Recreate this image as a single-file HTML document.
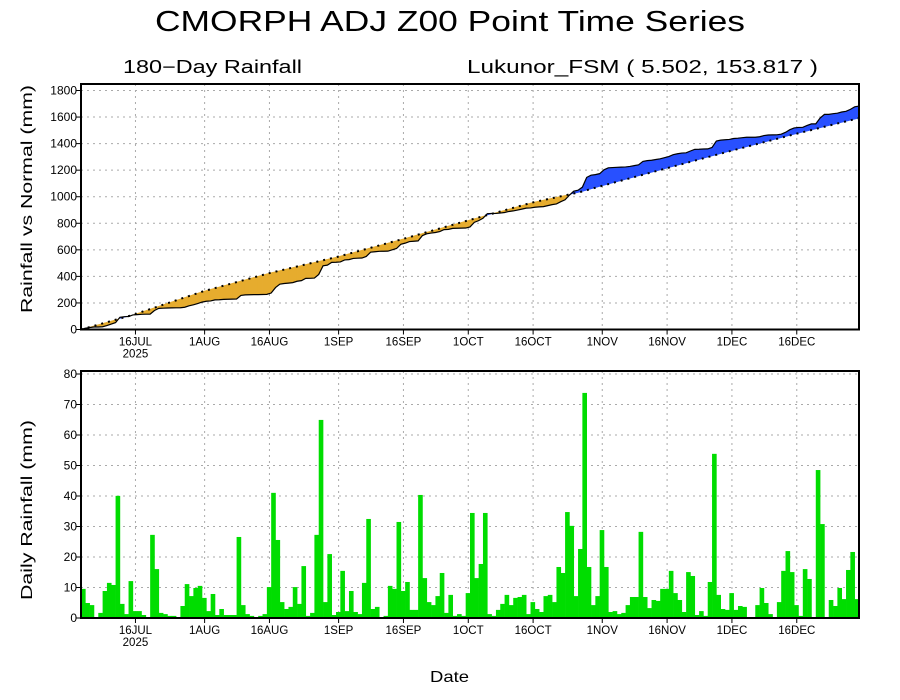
<!DOCTYPE html>
<html><head><meta charset="utf-8"><style>
html,body{margin:0;padding:0;background:#fff;}
svg{display:block;font-family:"Liberation Sans",sans-serif;}
</style></head><body>
<svg id="s" width="900" height="700" xmlns="http://www.w3.org/2000/svg">
<rect width="900" height="700" fill="#fff"/>
<text x="155" y="31" font-size="29" textLength="590" lengthAdjust="spacingAndGlyphs">CMORPH ADJ Z00 Point Time Series</text>
<text x="123" y="73" font-size="18" textLength="179" lengthAdjust="spacingAndGlyphs">180−Day Rainfall</text>
<text x="467" y="73" font-size="18" textLength="351" lengthAdjust="spacingAndGlyphs">Lukunor_FSM ( 5.502, 153.817 )</text>
<text transform="translate(32,199) rotate(-90)" x="-114" y="0" font-size="16" textLength="228" lengthAdjust="spacingAndGlyphs">Rainfall vs Normal (mm)</text>
<text transform="translate(32,510) rotate(-90)" x="-90" y="0" font-size="16" textLength="180" lengthAdjust="spacingAndGlyphs">Daily Rainfall (mm)</text>
<text x="430" y="682" font-size="16" textLength="39" lengthAdjust="spacingAndGlyphs">Date</text>
<g id="g"></g>
</svg>
<script>
var NS="http://www.w3.org/2000/svg",g=document.getElementById("g");
function el(t,a,txt){var e=document.createElementNS(NS,t);for(var k in a)e.setAttribute(k,a[k]);if(txt!=null)e.textContent=txt;g.appendChild(e);return e;}
var L=81,R=859,dw=(R-L)/180;
var d=[9.7,5,4.3,0.3,1.7,9,11.7,11,40.7,4.7,1.3,12.3,2.3,2.3,1,0.3,27.7,16.3,1.7,1.3,0.7,0.7,0.3,4,11.3,7.3,10,10.7,6.7,2.3,
8,1,3,1,1,1,27,4.3,1.3,0.7,0,0.7,1.3,10.3,41.7,26,5.3,3,3.7,10.3,4.7,17.3,0.7,1.7,27.7,66,5.3,21.3,1,2,
15.7,2.3,9,2,1.3,11.7,33,3,3.7,0.3,0.7,10.7,9.7,32,9,12,2.7,2.7,41,13.3,5.3,4.3,7.3,15,1.7,7.7,0.7,1.3,0.7,8.3,
35,13.3,18,35,1.3,0.7,2.7,4.7,7.7,4.3,6.7,7,7.7,1.3,5.3,3,2,7.3,7.7,5.3,17,15,35.3,30.7,7.3,23,75,17,4.3,7.3,
29.3,17,2,2.3,1.3,1.7,4.3,7,7,28.7,7,3.3,6,5.7,9.7,9.7,15.7,8.3,6,2,15.3,14,1,2.3,0.7,12,54.7,7.7,3,2.7,
8.3,2.7,4,3.7,0,0,4.3,10,5,1.3,0.3,5.3,15.7,22.3,15.3,4.3,0.7,16.3,13,0.3,49.3,31.3,0,6,4,10,6.3,16,22,6.3];
d=d.map(function(v){return v*0.984;});
while(d.length<180)d.push(1);d=d.slice(0,180);
var ticks=[[12,"16JUL"],[28,"1AUG"],[43,"16AUG"],[59,"1SEP"],[74,"16SEP"],[89,"1OCT"],[104,"16OCT"],[120,"1NOV"],[135,"16NOV"],[150,"1DEC"],[165,"16DEC"]];
function tx(i){return L+(i+0.6)*dw;}
function panel(T,B,vals,fmt,yv){
 vals.forEach(function(v){var y=yv(v);if(y>T+2)el("line",{x1:L,x2:R,y1:y,y2:y,stroke:"#aaa","stroke-dasharray":"2,4"});el("line",{x1:L-5,x2:L,y1:y,y2:y,stroke:"#000"});el("text",{x:L-4,y:y+4,"text-anchor":"end","font-size":"12"},fmt(v));});
 ticks.forEach(function(t){var x=tx(t[0]);el("line",{x1:x,x2:x,y1:T,y2:B,stroke:"#aaa","stroke-dasharray":"2,4"});el("line",{x1:x,x2:x,y1:B,y2:B+5,stroke:"#000"});el("text",{x:x,y:B+16,"text-anchor":"middle","font-size":"11.5"},t[1]);});
 el("text",{x:tx(12),y:B+28,"text-anchor":"middle","font-size":"11.5"},"2025");
}
// top
var T1=84,B1=329.5,k1=(B1-90.5)/1800;function y1(v){return B1-v*k1;}
panel(T1,B1,[0,200,400,600,800,1000,1200,1400,1600,1800],String,y1);
var np=[[0,0],[12,110],[28,285],[43.6,425],[59.3,547],[74.5,682],[89.6,822],[104.6,958],[115.5,1035],[120,1077],[135,1210],[150,1342],[165,1470],[180,1592]];
function norm(i){for(var j=0;j<np.length-1;j++){if(i<=np[j+1][0]){var a=np[j],b=np[j+1];return a[1]+(b[1]-a[1])*(i-a[0])/(b[0]-a[0]);}}return 1592;}
var s=0,cum=[0];d.forEach(function(v,i){s+=(i>=121?v*0.9:v);cum.push(s);});
for(var i=0;i<180;i++){var xa=L+i*dw,xb=L+(i+1)*dw,a0=cum[i],a1=cum[i+1],n0=norm(i),n1=norm(i+1);
 var c=((a0+a1)<(n0+n1))?"#e6ac2e":"#2850ff";
 el("polygon",{points:xa+","+y1(a0)+" "+xb+","+y1(a1)+" "+xb+","+y1(n1)+" "+xa+","+y1(n0),fill:c,stroke:c,"stroke-width":"0.5"});}
var pa="",pn="";for(i=0;i<=180;i++){pa+=(L+i*dw)+","+y1(cum[i])+" ";pn+=(L+i*dw)+","+y1(norm(i))+" ";}
el("polyline",{points:pa,fill:"none",stroke:"#000","stroke-width":"1.2"});
el("polyline",{points:pn,fill:"none",stroke:"#000","stroke-width":"2","stroke-dasharray":"2,5"});
el("rect",{x:L,y:T1,width:R-L,height:B1-T1,fill:"none",stroke:"#000","stroke-width":"2"});
// bottom
var T2=371,B2=618,k2=(B2-374)/80;function y2(v){return B2-v*k2;}
panel(T2,B2,[0,10,20,30,40,50,60,70,80],String,y2);
for(i=0;i<180;i++){if(d[i]<=0)continue;el("rect",{x:L+i*dw,y:y2(d[i]),width:dw+0.3,height:d[i]*k2,fill:"#00dd00"});}
el("rect",{x:L,y:T2,width:R-L,height:B2-T2,fill:"none",stroke:"#000","stroke-width":"2"});
</script>
</body></html>
